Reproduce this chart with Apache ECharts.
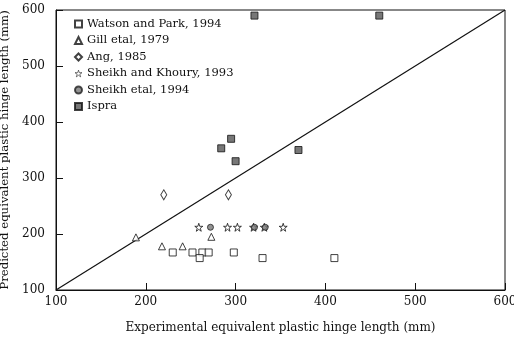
<!DOCTYPE html>
<html>
<head>
<meta charset="utf-8">
<script src="https://cdn.jsdelivr.net/npm/echarts@6/dist/echarts.min.js"></script>
<style>html,body{margin:0;padding:0;background:#fff;}#c{width:514px;height:339px;}</style>
</head>
<body>
<div id="c"></div>
<script>
const xTicks = [100, 200, 300, 400, 500, 600];
const yTicks = [100, 200, 300, 400, 500, 600];
const seriesNames = ["Watson and Park, 1994", "Gill etal, 1979", "Ang, 1985", "Sheikh and Khoury, 1993", "Sheikh etal, 1994", "Ispra"];
const watsonPark = [[230,167],[252,167],[263,167],[270,167],[260,157],[298,167],[330,157],[410,157]];
const gill = [[189,194],[218,178],[241,178],[273,195]];
const ang = [[220,270],[292,270]];
const sheikhKhoury = [[259,212],[291,212],[302,212],[320,212],[332,212],[353,212]];
const sheikhEtal = [[272,212],[321,212],[333,212]];
const ispra = [[284,353],[295,370],[300,330],[321,590],[370,350],[460,590]];
const equalityLine = [[100,100],[600,600]];

const FONT = 'DejaVu Serif';
const starPath = 'path://M50,2 L61,36 L97,36 L68,57 L79,92 L50,71 L21,92 L32,57 L3,36 L39,36 Z';
const hollow = {color: '#fff', borderColor: '#111', borderWidth: 1};

const legendData = seriesNames.map(function (n, i) {
  return i === 3 ? {name: n, itemStyle: {color: '#fff', borderColor: '#111', borderWidth: 0.7}} : {name: n};
});

const chart = echarts.init(document.getElementById('c'));
chart.setOption({
  animation: false,
  backgroundColor: '#fff',
  textStyle: {fontFamily: FONT, color: '#111'},
  grid: {left: 56, right: 9, top: 10, bottom: 49, outerBoundsMode: 'none', containLabel: false,
         show: true, borderColor: '#111', borderWidth: 1, backgroundColor: 'transparent'},
  legend: {
    orient: 'vertical', left: 74, top: 17, padding: 0, itemWidth: 7, itemHeight: 7, itemGap: 2.5,
    data: legendData,
    textStyle: {fontFamily: FONT, fontSize: 11.5, lineHeight: 14, color: '#111', padding: [0,0,0,0]}
  },
  xAxis: {
    type: 'value', min: xTicks[0], max: xTicks[xTicks.length-1], interval: 100,
    name: 'Experimental equivalent plastic hinge length (mm)', nameLocation: 'middle', nameGap: 32,
    nameTextStyle: {fontFamily: FONT, fontSize: 12, color: '#111'},
    axisLine: {lineStyle: {color: '#111', width: 1}},
    axisTick: {inside: true, length: 7, lineStyle: {color: '#111'}},
    axisLabel: {fontFamily: FONT, fontSize: 12, color: '#111', margin: 6},
    splitLine: {show: false}
  },
  yAxis: {
    type: 'value', min: yTicks[0], max: yTicks[yTicks.length-1], interval: 100,
    name: 'Predicted equivalent plastic hinge length (mm)', nameLocation: 'middle', nameGap: 39,
    nameTextStyle: {fontFamily: FONT, fontSize: 11.7, color: '#111'},
    axisLine: {lineStyle: {color: '#111', width: 1}},
    axisTick: {inside: true, length: 7, lineStyle: {color: '#111'}},
    axisLabel: {fontFamily: FONT, fontSize: 12, color: '#111', margin: 11},
    splitLine: {show: false}
  },
  series: [
    {name: 'diag', type: 'line', data: equalityLine, showSymbol: false, symbol: 'none', silent: true,
     lineStyle: {color: '#111', width: 1.2}, z: 1},
    {name: seriesNames[0], type: 'scatter', data: watsonPark, symbol: 'rect', symbolSize: 7, itemStyle: hollow, z: 3},
    {name: seriesNames[1], type: 'scatter', data: gill, symbol: 'triangle', symbolSize: 7, itemStyle: hollow, z: 3},
    {name: seriesNames[2], type: 'scatter', data: ang, symbol: 'diamond', symbolSize: [6, 10], itemStyle: hollow, z: 3},
    {name: seriesNames[3], type: 'scatter', data: sheikhKhoury, symbol: starPath, symbolSize: 8, itemStyle: hollow, z: 3},
    {name: seriesNames[4], type: 'scatter', data: sheikhEtal, symbol: 'circle', symbolSize: 6, itemStyle: {color: '#777', borderColor: '#222', borderWidth: 1}, z: 4},
    {name: seriesNames[5], type: 'scatter', data: ispra, symbol: 'rect', symbolSize: 7, itemStyle: {color: '#555', borderColor: '#111', borderWidth: 1}, z: 3}
  ]
});
</script>
</body>
</html>
